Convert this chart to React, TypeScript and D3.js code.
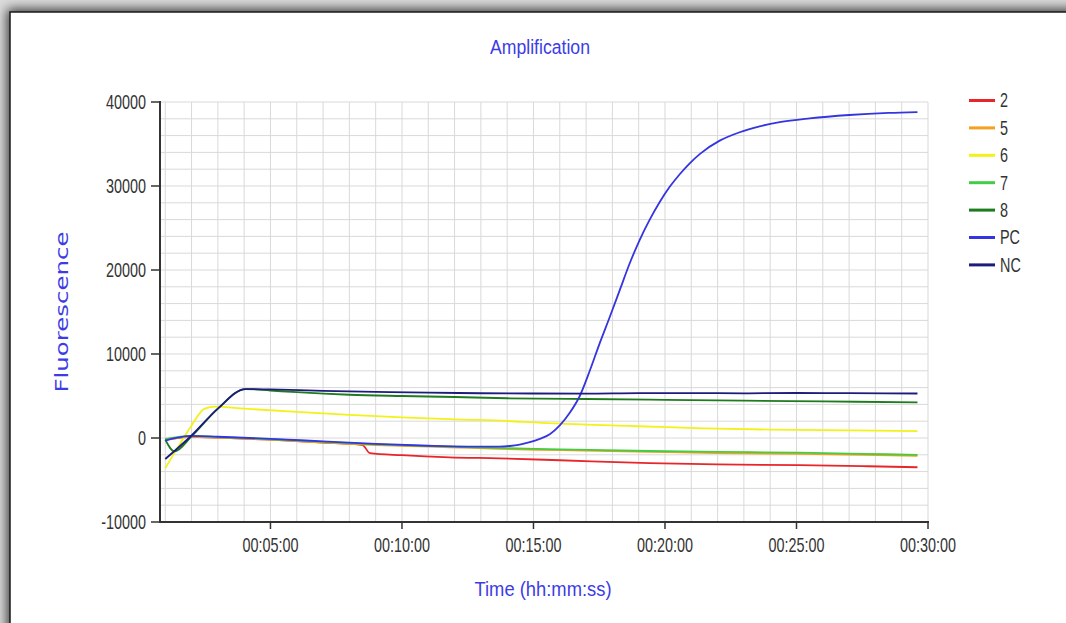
import React from "react";
import * as d3 from "d3";

// ---- data (time in minutes, fluorescence) ----
const seriesNames = ["2", "5", "6", "7", "8", "PC", "NC"];
const seriesColors = ["#e8262a", "#f5a020", "#f2f21a", "#44cc44", "#1e7b1e", "#3535e0", "#1c1c7c"];

const s2: [number, number][] = [
  [1.0, -200], [2.0, 150], [3, 50], [5, -200], [7, -550], [8.5, -850], [8.78, -1800], [10, -2050],
  [11.8, -2300], [13.7, -2420], [16, -2650], [19.4, -3000], [22, -3150], [25.1, -3230], [27.5, -3350], [29.6, -3480],
];
const s5: [number, number][] = [
  [1.0, -200], [2, 150], [3, 50], [5, -200], [7, -550], [9, -850], [11.8, -1100], [13.7, -1300],
  [16, -1450], [19.4, -1650], [22, -1800], [25.1, -1900], [27.5, -2000], [29.6, -2120],
];
const s6: [number, number][] = [
  [1.0, -3600], [1.5, -1000], [2.0, 1500], [2.5, 3500], [2.9, 3730], [4, 3500], [6, 3100], [8, 2750],
  [10, 2450], [12, 2220], [14, 2030], [15.3, 1800], [17, 1600], [19, 1400], [21.5, 1150], [24, 1000], [27, 900], [29.6, 830],
];
const s7: [number, number][] = [
  [1.0, -100], [2, 250], [3, 120], [5, -150], [7, -450], [9, -750], [11.8, -1030], [13.7, -1200],
  [16, -1350], [19.4, -1550], [22, -1650], [25.1, -1750], [27.5, -1880], [29.6, -2000],
];
const s8: [number, number][] = [
  [1.0, -200], [1.35, -1600], [2.0, 200], [3, 3500], [4.05, 5830], [5, 5650], [6, 5450], [8, 5150],
  [10, 5000], [12, 4880], [14, 4730], [17, 4640], [20, 4550], [23, 4450], [26, 4350], [29.6, 4250],
];
const sPC: [number, number][] = [
  [1.0, -300], [2, 250], [3, 150], [5, -100], [7, -400], [9, -700], [11, -920], [12.5, -1020], [13.7, -1030],
  [14.1, -950], [14.48, -780], [14.86, -500], [15.24, -100], [15.62, 450], [16.0, 1500], [16.38, 3000],
  [16.76, 5000], [17.14, 8000], [17.52, 11300], [17.9, 14400], [18.28, 17600], [18.66, 20800], [19.04, 23600],
  [19.42, 26000], [19.8, 28100], [20.18, 29900], [20.56, 31400], [20.94, 32700], [21.32, 33800], [22.08, 35400],
  [22.84, 36400], [23.6, 37100], [24.36, 37600], [25.5, 38050], [27, 38450], [28.5, 38700], [29.6, 38800],
];
const sNC: [number, number][] = [
  [1.0, -2500], [2, 300], [3, 3500], [4.05, 5830], [5, 5780], [7, 5620], [9, 5500], [11, 5400], [13, 5330],
  [15, 5300], [17, 5290], [19, 5350], [21, 5350], [23, 5320], [25, 5360], [27, 5340], [29.6, 5300],
];
const seriesData = [s2, s5, s6, s7, s8, sPC, sNC];

const yTicks = [-10000, 0, 10000, 20000, 30000, 40000];
const xTicks = [5, 10, 15, 20, 25, 30];
const xTickLabels = ["00:05:00", "00:10:00", "00:15:00", "00:20:00", "00:25:00", "00:30:00"];

export default function App() {
  const W = 1066, H = 623;
  const x = d3.scaleLinear().domain([0.8, 30]).range([160, 928]);
  const y = d3.scaleLinear().domain([-10000, 40000]).range([522, 102]);
  const line = d3.line<[number, number]>().x(d => x(d[0])).y(d => y(d[1])).curve(d3.curveMonotoneX);

  const vGrid = d3.range(1, 31);
  const hGrid = d3.range(-8000, 40001, 2000);
  const tickColor = "#333";
  const blue = "#3c3ce6";
  const font = "'Liberation Sans', Arial, sans-serif";
  const sx = 0.72;

  return (
    <svg width={W} height={H} style={{ position: "absolute", left: 0, top: 0 }}>
      <defs>
        <filter id="sh" x="-10%" y="-10%" width="120%" height="120%">
          <feGaussianBlur stdDeviation="6" />
        </filter>
      </defs>
      <rect x={0} y={0} width={W} height={H} fill="#dcdcdc" />
      <rect x={7} y={9} width={W + 40} height={H + 40} fill="#000" opacity={0.75} filter="url(#sh)" />
      <rect x={10} y={12} width={W + 40} height={H + 40} fill="#fff" stroke="#1a1a1a" strokeWidth={1.5} />

      {/* grid */}
      {vGrid.map(t => (
        <line key={"v" + t} x1={x(t)} x2={x(t)} y1={102} y2={522} stroke="#d9d9d9" strokeWidth={1} />
      ))}
      {hGrid.map(v => (
        <line key={"h" + v} x1={160} x2={928} y1={y(v)} y2={y(v)} stroke="#d9d9d9" strokeWidth={1} />
      ))}

      {/* series */}
      {seriesData.map((d, i) => (
        <path key={seriesNames[i]} d={line(d) || ""} fill="none" stroke={seriesColors[i]} strokeWidth={1.8} />
      ))}

      {/* axes */}
      <line x1={160} x2={160} y1={101} y2={523} stroke="#333" strokeWidth={2} />
      <line x1={159} x2={929} y1={522} y2={522} stroke="#333" strokeWidth={2} />
      {yTicks.map(v => (
        <g key={"yt" + v}>
          <line x1={151} x2={160} y1={y(v)} y2={y(v)} stroke="#333" strokeWidth={1.5} />
          <g transform={`translate(146,${y(v)}) scale(${sx},1)`}>
            <text textAnchor="end" dominantBaseline="central" fontFamily={font} fontSize={20} fill={tickColor}>{v}</text>
          </g>
        </g>
      ))}
      {xTicks.map((t, i) => (
        <g key={"xt" + t}>
          <line x1={x(t)} x2={x(t)} y1={522} y2={529} stroke="#333" strokeWidth={1.5} />
          <g transform={`translate(${x(t)},545) scale(${sx},1)`}>
            <text textAnchor="middle" dominantBaseline="central" fontFamily={font} fontSize={20} fill={tickColor}>{xTickLabels[i]}</text>
          </g>
        </g>
      ))}

      {/* titles */}
      <text x={540} y={47} textAnchor="middle" dominantBaseline="central" fontFamily={font} fontSize={20} fill={blue}
        textLength={100} lengthAdjust="spacingAndGlyphs">Amplification</text>
      <text x={543} y={589} textAnchor="middle" dominantBaseline="central" fontFamily={font} fontSize={20} fill={blue}
        textLength={137} lengthAdjust="spacingAndGlyphs">Time (hh:mm:ss)</text>
      <g transform="translate(62,312) scale(0.7,1) rotate(-90)">
        <text textAnchor="middle" dominantBaseline="central" fontFamily="'DejaVu Sans', Verdana, sans-serif" fontSize={24} fill={blue}
          textLength={161} lengthAdjust="spacingAndGlyphs">Fluorescence</text>
      </g>

      {/* legend */}
      {seriesNames.map((n, i) => {
        const ly = 100.5 + i * 27.4;
        return (
          <g key={"lg" + n}>
            <line x1={969} x2={995} y1={ly} y2={ly} stroke={seriesColors[i]} strokeWidth={3} />
            <g transform={`translate(1000,${ly}) scale(${sx},1)`}>
              <text dominantBaseline="central" fontFamily={font} fontSize={20} fill="#333">{n}</text>
            </g>
          </g>
        );
      })}
    </svg>
  );
}
